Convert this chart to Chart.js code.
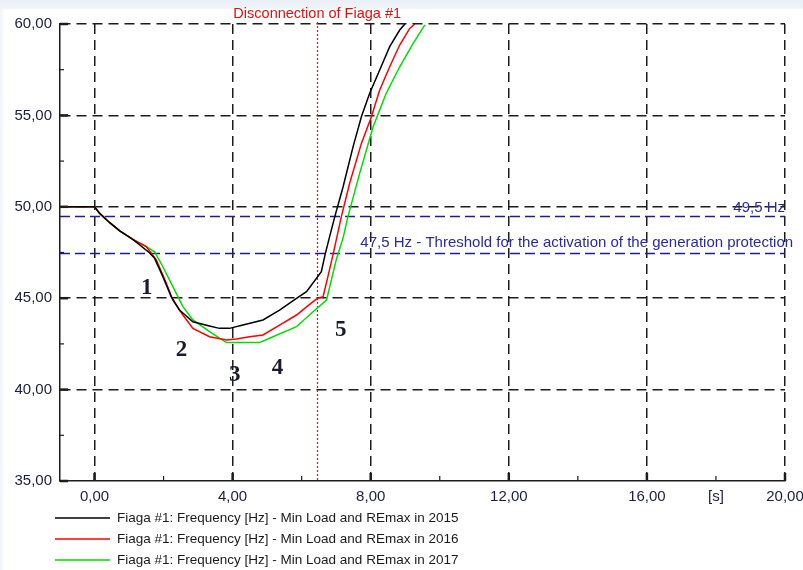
<!DOCTYPE html>
<html>
<head>
<meta charset="utf-8">
<script src="https://cdn.jsdelivr.net/npm/chart.js@4"></script>
<style>
    html, body { margin: 0; padding: 0; background: #fff; }
    #wrap {
        width: 803px; height: 570px;
        /* faint page tint behind the top strip, as in the scanned figure */
        background:
            linear-gradient(to bottom, #e9eff6 0px, #eef3f8 8px, rgba(255,255,255,0) 10px),
            linear-gradient(to right, #eef3f8 0px, rgba(255,255,255,0) 5px),
            #fff;
    }
</style>
</head>
<body>
<div id="wrap"><canvas id="freq-chart" width="803" height="570"></canvas></div>
<script>
// Fiaga #1 frequency after disconnection — three load scenarios

// ── Data ──────────────────────────────────────────────────────────────

const t2015 = [-1, 0, 0.15, 0.44, 0.73, 1.11, 1.59, 1.74, 1.98, 2.22, 2.46, 2.85, 3.33, 3.62, 3.91, 4.30, 4.88, 5.36, 5.85, 6.14, 6.43, 6.57, 6.68, 6.81, 6.96, 7.2, 7.49, 7.73, 7.97, 8.26, 8.55, 8.84, 8.99];
const f2015 = [50, 50, 49.64, 49.13, 48.68, 48.22, 47.49, 47.18, 46.18, 45.09, 44.35, 43.71, 43.48, 43.35, 43.35, 43.53, 43.81, 44.35, 44.99, 45.36, 46.09, 46.45, 47.4, 48.37, 49.46, 51.1, 53.29, 54.93, 56.21, 57.48, 58.76, 59.67, 60];

const t2016 = [-1, 0, 0.15, 0.44, 0.73, 1.11, 1.5, 1.79, 2.08, 2.27, 2.56, 2.85, 3.33, 3.82, 4.11, 4.49, 4.88, 5.36, 5.85, 6.33, 6.47, 6.62, 6.76, 6.91, 7.15, 7.39, 7.73, 8.02, 8.26, 8.55, 8.84, 9.13, 9.28];
const f2016 = [50, 50, 49.64, 49.13, 48.68, 48.22, 47.82, 47.09, 45.82, 44.9, 44.08, 43.35, 42.89, 42.71, 42.77, 42.89, 42.99, 43.53, 44.08, 44.81, 45.0, 45.08, 46.18, 47.4, 49.46, 51.29, 53.47, 54.93, 56.39, 57.66, 58.85, 59.76, 60];

const t2017 = [-1, 0, 0.15, 0.44, 0.73, 1.11, 1.5, 1.74, 1.98, 2.27, 2.56, 2.85, 3.33, 3.82, 4.78, 5.07, 5.85, 6.33, 6.72, 6.86, 7.0, 7.2, 7.34, 7.68, 8.07, 8.45, 8.84, 9.23, 9.57];
const f2017 = [50, 50, 49.64, 49.13, 48.68, 48.22, 47.82, 47.54, 46.72, 45.63, 44.54, 43.81, 43.17, 42.57, 42.57, 42.81, 43.44, 44.26, 44.9, 45.99, 47.09, 48.3, 49.46, 51.83, 54.38, 56.21, 57.66, 58.94, 59.95];

const seriesLabels = [
    'Fiaga #1: Frequency [Hz] - Min Load and REmax in 2015',
    'Fiaga #1: Frequency [Hz] - Min Load and REmax in 2016',
    'Fiaga #1: Frequency [Hz] - Min Load and REmax in 2017',
];

const xTickValues = [0, 2, 4, 6, 8, 10, 12, 14, 16, 18, 20];
const xTickLabels = ['0,00', '', '4,00', '', '8,00', '', '12,00', '', '16,00', '[s]', '20,00'];
const yTickValues = [35, 37.5, 40, 42.5, 45, 47.5, 50, 52.5, 55, 57.5, 60];
const yTickLabels = ['35,00', '', '40,00', '', '45,00', '', '50,00', '', '55,00', '', '60,00'];

const thresholdValues = [49.5, 47.5];
const thresholdLabels = ['49,5 Hz', '47,5 Hz - Threshold for the activation of the generation protection'];
const disconnectT = 6.45;
const disconnectLabel = 'Disconnection of Fiaga #1';

const stageLabels = ['1', '2', '3', '4', '5'];
const stageT = [1.51, 2.52, 4.06, 5.3, 7.13];
const stageF = [45.56, 42.17, 40.8, 41.18, 43.26];

// ── Styling ───────────────────────────────────────────────────────────

const COLORS = {
    s2015: '#000000',
    s2016: '#ff0000',
    s2017: '#00dd00',
    grid: '#1c1c1c',
    axis: '#1c1c1c',
    text: '#1a1a1a',
    tick: '#1a1f3a',
    blue: '#1e1e8c',
    blueText: '#2a2a9c',
    red: '#e01010',
    stage: '#1a1a30',
};
const FONT = '"Liberation Sans", Arial, sans-serif';

function points(t, f) {
    return t.map((v, i) => ({ x: v, y: f[i] }));
}

// ── Plugins ───────────────────────────────────────────────────────────

// short tick marks pointing into the plot, like the original tool draws them
const innerTicks = {
    id: 'innerTicks',
    afterDatasetsDraw(chart) {
        const { ctx, chartArea: a, scales: { x, y } } = chart;
        ctx.save();
        ctx.strokeStyle = COLORS.axis;
        xTickValues.forEach((v, i) => {
            const px = x.getPixelForValue(v);
            const major = xTickLabels[i] !== '' && xTickLabels[i] !== '[s]';
            ctx.lineWidth = major ? 2.5 : 1.2;
            ctx.beginPath();
            ctx.moveTo(px, a.bottom);
            ctx.lineTo(px, a.bottom - (major ? 8 : 5));
            ctx.stroke();
        });
        yTickValues.forEach((v, i) => {
            const py = y.getPixelForValue(v);
            const major = yTickLabels[i] !== '';
            ctx.lineWidth = major ? 2.5 : 1.2;
            ctx.beginPath();
            ctx.moveTo(a.left, py);
            ctx.lineTo(a.left + (major ? 8 : 4), py);
            ctx.stroke();
        });
        ctx.restore();
    }
};

const annotations = {
    id: 'annotations',
    beforeDraw(chart) {
        // white plot panel over the tinted page
        const { ctx, chartArea: a } = chart;
        ctx.save();
        ctx.fillStyle = '#fff';
        ctx.fillRect(a.left - 46, a.top - 15, a.right - a.left + 64, chart.height - a.top + 15);
        ctx.restore();
    },
    beforeDatasetsDraw(chart) {
        const { ctx, chartArea: a, scales: { x, y } } = chart;
        ctx.save();
        // threshold lines
        ctx.strokeStyle = COLORS.blue;
        ctx.lineWidth = 1.5;
        ctx.setLineDash([10, 5]);
        thresholdValues.forEach(v => {
            const py = Math.round(y.getPixelForValue(v)) + 0.5;
            ctx.beginPath();
            ctx.moveTo(a.left, py);
            ctx.lineTo(a.right, py);
            ctx.stroke();
        });
        // disconnection marker
        const dx = Math.round(x.getPixelForValue(disconnectT)) + 0.5;
        ctx.strokeStyle = COLORS.red;
        ctx.lineWidth = 1.2;
        ctx.setLineDash([2, 2]);
        ctx.beginPath();
        ctx.moveTo(dx, a.top - 2);
        ctx.lineTo(dx, a.bottom);
        ctx.stroke();
        ctx.restore();
    },
    afterDraw(chart) {
        const { ctx, chartArea: a, scales: { x, y } } = chart;
        ctx.save();
        ctx.font = `15px ${FONT}`;
        ctx.fillStyle = COLORS.blueText;
        ctx.textBaseline = 'bottom';
        ctx.textAlign = 'right';
        ctx.fillText(thresholdLabels[0], a.right, y.getPixelForValue(thresholdValues[0]) - 1);
        ctx.textAlign = 'left';
        ctx.textBaseline = 'middle';
        ctx.fillText(thresholdLabels[1], x.getPixelForValue(7.7), y.getPixelForValue(thresholdValues[1]) - 10);

        ctx.font = `14.5px ${FONT}`;
        ctx.fillStyle = COLORS.red;
        ctx.textAlign = 'center';
        ctx.fillText(disconnectLabel, x.getPixelForValue(disconnectT), a.top - 10);

        ctx.font = `bold 23px "Liberation Serif", "Times New Roman", serif`;
        ctx.fillStyle = COLORS.stage;
        stageLabels.forEach((s, i) => {
            ctx.fillText(s, x.getPixelForValue(stageT[i]), y.getPixelForValue(stageF[i]));
        });

        // legend, one entry per line under the axis
        ctx.font = `13.5px ${FONT}`;
        ctx.textAlign = 'left';
        chart.data.datasets.forEach((ds, i) => {
            const ly = 518 + i * 21;
            ctx.strokeStyle = ds.borderColor;
            ctx.lineWidth = 1.5;
            ctx.beginPath();
            ctx.moveTo(55, ly);
            ctx.lineTo(110, ly);
            ctx.stroke();
            ctx.fillStyle = COLORS.text;
            ctx.fillText(ds.label, 117, ly);
        });
        ctx.restore();
    }
};

// ── Chart ─────────────────────────────────────────────────────────────

function initChart() {
    const ctx = document.getElementById('freq-chart').getContext('2d');
    const colors = [COLORS.s2015, COLORS.s2016, COLORS.s2017];
    const series = [points(t2015, f2015), points(t2016, f2016), points(t2017, f2017)];

    new Chart(ctx, {
        type: 'line',
        data: {
            datasets: series.map((d, i) => ({
                label: seriesLabels[i],
                data: d,
                borderColor: colors[i],
                borderWidth: 1.5,
                pointRadius: 0,
                tension: 0,
                fill: false,
            }))
        },
        options: {
            responsive: false,
            animation: false,
            layout: { padding: { top: 24, right: 18, bottom: 59, left: 0 } },
            plugins: {
                legend: { display: false },
                tooltip: { enabled: false },
            },
            scales: {
                x: {
                    type: 'linear',
                    min: -1,
                    max: 20,
                    afterBuildTicks: s => { s.ticks = xTickValues.map(v => ({ value: v })); },
                    afterFit: s => { s.height = 30; s.paddingLeft = 0; s.paddingRight = 0; },
                    ticks: {
                        autoSkip: false,
                        maxRotation: 0,
                        padding: 7,
                        color: COLORS.tick,
                        font: { family: FONT, size: 15 },
                        callback: v => xTickLabels[xTickValues.indexOf(v)],
                    },
                    grid: {
                        drawTicks: false,
                        lineWidth: 1.5,
                        color: c => (c.tick && xTickLabels[xTickValues.indexOf(c.tick.value)] && c.tick.value !== 18)
                            ? COLORS.grid : 'rgba(0,0,0,0)',
                    },
                    border: { display: true, color: COLORS.axis, width: 1.5, dash: [10, 6] },
                },
                y: {
                    min: 35,
                    max: 60,
                    afterBuildTicks: s => { s.ticks = yTickValues.map(v => ({ value: v })); },
                    afterFit: s => { s.width = 60; s.paddingTop = 0; s.paddingBottom = 0; },
                    ticks: {
                        autoSkip: false,
                        padding: 8,
                        color: COLORS.tick,
                        font: { family: FONT, size: 15 },
                        callback: v => yTickLabels[yTickValues.indexOf(v)],
                    },
                    grid: {
                        drawTicks: false,
                        lineWidth: 1.5,
                        color: c => (c.tick && yTickLabels[yTickValues.indexOf(c.tick.value)] && c.tick.value !== 35)
                            ? COLORS.grid : 'rgba(0,0,0,0)',
                    },
                    border: { display: true, color: COLORS.axis, width: 1.5, dash: [10, 6] },
                }
            }
        },
        plugins: [annotations, innerTicks],
    });
}

document.addEventListener('DOMContentLoaded', initChart);
</script>
</body>
</html>
